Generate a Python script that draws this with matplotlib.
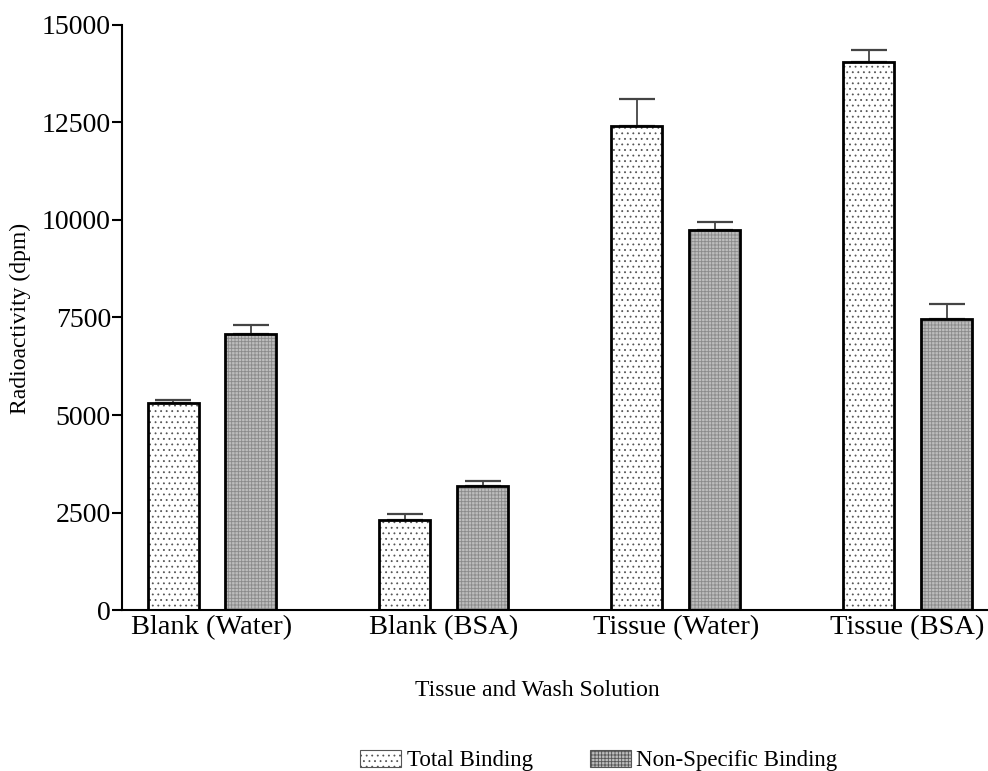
import numpy as np
import matplotlib
matplotlib.use("Agg")
import matplotlib.pyplot as plt
from matplotlib.patches import Patch

plt.rcParams['font.family'] = ['Liberation Serif', 'DejaVu Serif']

groups = ['Blank (Water)', 'Blank (BSA)', 'Tissue (Water)', 'Tissue (BSA)']
total = [5320, 2300, 12400, 14050]
total_err = [70, 150, 700, 320]
nonspec = [7080, 3180, 9750, 7450]
nonspec_err = [230, 120, 200, 400]

x = np.arange(len(groups))
w = 0.22
off = 0.168

fig = plt.figure(figsize=(9.88, 7.71), dpi=100)
ax = fig.add_axes([0.1235, 0.2088, 0.875, 0.7588])

def draw(xpos, vals, errs, face, hatch, hcol):
    # hatch layer then outline, so the pattern can be grey and the edge black
    ax.bar(xpos, vals, w, color=face, hatch=hatch, edgecolor=hcol, linewidth=0, zorder=2)
    ax.bar(xpos, vals, w, fill=False, edgecolor='black', linewidth=2, zorder=3)
    ax.errorbar(xpos, vals, yerr=[np.zeros(len(vals)), errs], fmt='none',
                ecolor='#444444', elinewidth=1.3, capsize=13, capthick=1.6, zorder=1)

plt.rcParams['hatch.linewidth'] = 0.6
draw(x - off, total, total_err, 'white', '...', '#555555')
draw(x + off, nonspec, nonspec_err, '#bdbdbd', '+++++', '#8a8a8a')

ax.set_xlim(-0.388, 3.34)
ax.set_ylim(0, 15000)
ax.set_yticks([0, 2500, 5000, 7500, 10000, 12500, 15000])
ax.set_xticks(x)
ax.set_xticklabels(groups)
ax.tick_params(axis='y', direction='out', length=7, width=1.5, labelsize=20, pad=1)
ax.tick_params(axis='x', length=0, labelsize=20.5, pad=4)
ax.spines['top'].set_visible(False)
ax.spines['right'].set_visible(False)
ax.spines['left'].set_linewidth(1.5)
ax.spines['bottom'].set_linewidth(1.5)

ax.set_ylabel('Radioactivity (dpm)', fontsize=17, va='center')
ax.yaxis.set_label_coords(-0.118, 0.499)
ax.set_xlabel('Tissue and Wash Solution', fontsize=17, va='center')
ax.xaxis.set_label_coords(0.48, -0.137)

handles = [Patch(facecolor='white', hatch='...', edgecolor='#555555', linewidth=0.8),
           Patch(facecolor='#bdbdbd', hatch='+++++', edgecolor='#555555', linewidth=0.8)]
fig.legend(handles, ['Total Binding', 'Non-Specific Binding'], loc='center',
           bbox_to_anchor=(0.606, 0.0135), ncol=2, frameon=False, fontsize=16.5,
           handlelength=1.8, handleheight=0.8, handletextpad=0.22, columnspacing=2.5,
           borderpad=0)

fig.savefig('out.png', dpi=100)
